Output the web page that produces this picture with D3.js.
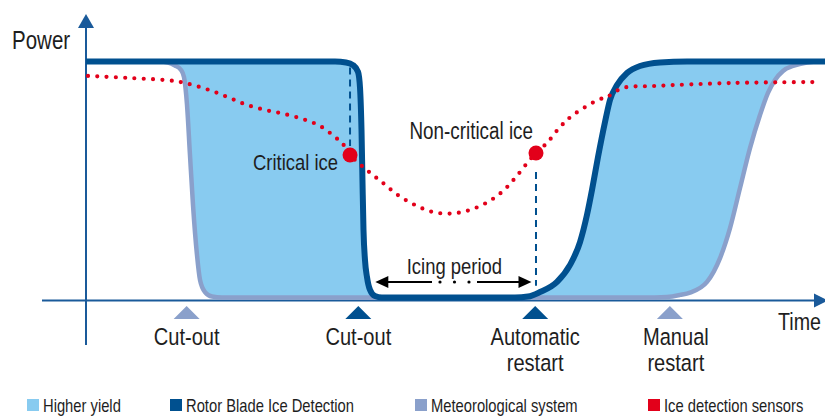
<!DOCTYPE html>
<html>
<head>
<meta charset="utf-8">
<script src="https://cdn.jsdelivr.net/npm/d3@7"></script>
<style>
  body { margin: 0; background: #fff; }
  svg text { font-family: "Liberation Sans", Arial, sans-serif; fill: #1e1e1e; }
</style>
</head>
<body>
<div id="chart"></div>
<script>
// time 0..100, power 0..100 (% of rated)
var rotorTime  = [0, 33.65, 35.14, 36.08, 36.76, 37.03, 37.23, 37.36, 37.5, 37.7, 37.97, 38.38, 39.05, 40, 57.97, 59.73, 61.35, 63.65, 65.41, 66.76, 67.7, 68.38, 69.19, 70.14, 70.81, 71.76, 73.11, 74.86, 77.57, 81.22, 100];
var rotorPower = [100, 100, 99.6, 98.5, 95.6, 88.8, 71, 49.8, 28.6, 15.9, 8.7, 3.2, 0.6, 0, 0, 0.4, 2.3, 6.6, 13.8, 23.5, 35, 45.6, 59.5, 74.4, 83.7, 90, 95.1, 98.1, 99.6, 100, 100];

var meteoTime  = [0, 10, 11.08, 12.03, 12.84, 13.24, 13.65, 14.05, 14.46, 15, 15.41, 16.08, 17.03, 18.38, 76.89, 78.51, 80.27, 81.62, 83.92, 85.68, 87.03, 88.38, 89.73, 91.08, 92.16, 93.11, 94.19, 95.54, 97.43, 99.19, 100];
var meteoPower = [100, 100, 99.6, 98.3, 96.4, 93.4, 81.6, 60.4, 39.2, 18, 7.4, 2.3, 0.4, 0, 0, 0.2, 1.1, 2.1, 6.6, 16.7, 29.4, 46.4, 63.3, 77.3, 86.7, 92.2, 96, 98.1, 99.6, 100, 100];

var sensorTime  = [0.27, 5.95, 12.03, 14.46, 17.03, 19.46, 21.76, 24.32, 26.76, 29.32, 31.62, 33.65, 34.73, 35.68, 38.11, 40.14, 42.16, 44.46, 46.89, 49.46, 51.89, 54.32, 56.35, 58.11, 59.73, 60.81, 62.3, 64.05, 65.81, 69.19, 70.41, 72.57, 76.62, 87.43, 98.51];
var sensorPower = [93.9, 93, 91.7, 90, 87.5, 84.5, 81.6, 79.4, 77.8, 75.6, 72.7, 68, 65, 60.4, 53.6, 48.5, 43.4, 39.2, 36.2, 35.6, 37.1, 40.5, 45.1, 51.1, 57.4, 61.2, 65.5, 72.2, 77.3, 83.7, 85, 88.8, 89.6, 90.9, 91.3];

var iceEvents = ["Critical ice", "Non-critical ice"];
var iceTime   = [35.68, 60.81];
var icePower  = [60.4, 61.2];

var eventLabels = [["Cut-out"], ["Cut-out"], ["Automatic", "restart"], ["Manual", "restart"]];
var eventTime   = [13.6, 36.8, 60.7, 78.9];
var eventSystem = ["meteo", "rotor", "rotor", "meteo"];

var icingStart = 39.1, icingEnd = 60.2;

var legendLabels = ["Higher yield", "Rotor Blade Ice Detection", "Meteorological system", "Ice detection sensors"];

var colors = { fill: "#88cbf0", rotor: "#00508f", meteo: "#8aa0cb", sensor: "#e2001a", axis: "#1a5a9a" };

var width = 825, height = 416;
var svg = d3.select("#chart").append("svg")
  .attr("width", width)
  .attr("height", height);

var x = d3.scaleLinear().domain([0, 100]).range([86, 826]);
var y = d3.scaleLinear().domain([0, 100]).range([297.5, 61.5]);

// condensed text: regular face squeezed horizontally
function label(px, py, s, size, anchor) {
  return svg.append("text")
    .attr("transform", "translate(" + px + "," + py + ") scale(0.82,1)")
    .attr("text-anchor", anchor || "start")
    .attr("font-size", size)
    .text(s);
}

function pts(ts, ps) { return ts.map(function(t, i) { return [t, ps[i]]; }); }
var rotor = pts(rotorTime, rotorPower);
var meteo = pts(meteoTime, meteoPower);
var sensor = pts(sensorTime, sensorPower);

var line = d3.line().x(function(d) { return x(d[0]); }).y(function(d) { return y(d[1]); }).curve(d3.curveMonotoneX);
var areaTo = function(base) {
  return d3.area().x(function(d) { return x(d[0]); }).y0(base).y1(function(d) { return y(d[1]); }).curve(d3.curveMonotoneX);
};

// higher yield = between rotor curve and meteo curve
var defs = svg.append("defs");
var mask = defs.append("mask").attr("id", "yieldMask");
mask.append("rect").attr("width", width).attr("height", height).attr("fill", "white");
mask.append("path").attr("d", areaTo(y(0) + 5)(meteo)).attr("fill", "black");

svg.append("path")
  .attr("d", areaTo(y(0))(rotor))
  .attr("fill", colors.fill)
  .attr("mask", "url(#yieldMask)");

// axes
var x0 = x(0), yb = y(0) + 3;
svg.append("line").attr("x1", 42).attr("x2", 816).attr("y1", yb).attr("y2", yb)
  .attr("stroke", colors.axis).attr("stroke-width", 2);
svg.append("path").attr("d", ["M", 814, yb - 7, "L", 828, yb, "L", 814, yb + 7, "Z"].join(" "))
  .attr("fill", colors.axis);
svg.append("line").attr("x1", x0).attr("x2", x0).attr("y1", 345).attr("y2", 26)
  .attr("stroke", colors.axis).attr("stroke-width", 2);
svg.append("path").attr("d", ["M", x0 - 8, 28, "L", x0, 14, "L", x0 + 8, 28, "Z"].join(" "))
  .attr("fill", colors.axis);

label(12, 49, "Power", 25);
label(778, 330, "Time", 24);

// curves
svg.append("path").attr("d", line(meteo))
  .attr("fill", "none").attr("stroke", colors.meteo).attr("stroke-width", 4.5);
svg.append("path").attr("d", line(rotor))
  .attr("fill", "none").attr("stroke", colors.rotor).attr("stroke-width", 6).attr("stroke-linejoin", "round");

// dashed guides from ice detection to rotor reaction
svg.append("line").attr("x1", x(iceTime[0])).attr("x2", x(iceTime[0]))
  .attr("y1", y(97.5)).attr("y2", y(icePower[0]) - 9)
  .attr("stroke", colors.rotor).attr("stroke-width", 2).style("stroke-dasharray", "7, 5");
svg.append("line").attr("x1", x(iceTime[1])).attr("x2", x(iceTime[1]))
  .attr("y1", y(icePower[1]) + 19).attr("y2", y(5))
  .attr("stroke", colors.rotor).attr("stroke-width", 2).style("stroke-dasharray", "7, 5");

// sensor dotted line
svg.append("path").attr("d", line.curve(d3.curveCatmullRom)(sensor))
  .attr("fill", "none").attr("stroke", colors.sensor).attr("stroke-width", 4.2)
  .attr("stroke-linecap", "round").style("stroke-dasharray", "0, 9.3");

svg.selectAll(".ice").data(iceTime).enter().append("circle")
  .attr("cx", function(d) { return x(d); })
  .attr("cy", function(d, i) { return y(icePower[i]); })
  .attr("r", 7.5)
  .attr("fill", colors.sensor);

label(x(iceTime[0]) - 12, 170, iceEvents[0], 22.5, "end");
label(x(iceTime[1]) - 3, 139, iceEvents[1], 23, "end");

// icing period arrow
var ay = 282, a0 = x(icingStart), a1 = x(icingEnd);
var arrow = svg.append("g");
arrow.append("path").attr("d", ["M", a0, ay, "L", a0 + 13, ay - 6, "L", a0 + 13, ay + 6, "Z"].join(" ")).attr("fill", "#000");
arrow.append("path").attr("d", ["M", a1, ay, "L", a1 - 13, ay - 6, "L", a1 - 13, ay + 6, "Z"].join(" ")).attr("fill", "#000");
arrow.append("line").attr("x1", a0 + 12).attr("x2", 432).attr("y1", ay).attr("y2", ay).attr("stroke", "#000").attr("stroke-width", 2);
arrow.append("line").attr("x1", 477).attr("x2", a1 - 12).attr("y1", ay).attr("y2", ay).attr("stroke", "#000").attr("stroke-width", 2);
[440, 454.5, 469].forEach(function(cx) {
  arrow.append("circle").attr("cx", cx).attr("cy", ay).attr("r", 1.6).attr("fill", "#000");
});
label((a0 + a1) / 2 + 1, 274, "Icing period", 22.5, "middle");

// event markers below the axis
eventTime.forEach(function(t, i) {
  var cx = x(t);
  svg.append("path").attr("d", ["M", cx - 13, 319, "L", cx, 306, "L", cx + 13, 319, "Z"].join(" "))
    .attr("fill", eventSystem[i] == "meteo" ? colors.meteo : colors.rotor);
  eventLabels[i].forEach(function(s, j) {
    label(cx + (i == 3 ? 6 : 0), 345 + j * 25.5, s, 24.5, "middle");
  });
});

// legend
var legendX = [27, 170, 415, 648];
var legendColors = [colors.fill, colors.rotor, colors.meteo, colors.sensor];
legendLabels.forEach(function(s, i) {
  svg.append("rect").attr("x", legendX[i]).attr("y", 399).attr("width", 12).attr("height", 12)
    .attr("fill", legendColors[i]);
  label(legendX[i] + 16, 412, s, 18);
});
</script>
</body>
</html>
